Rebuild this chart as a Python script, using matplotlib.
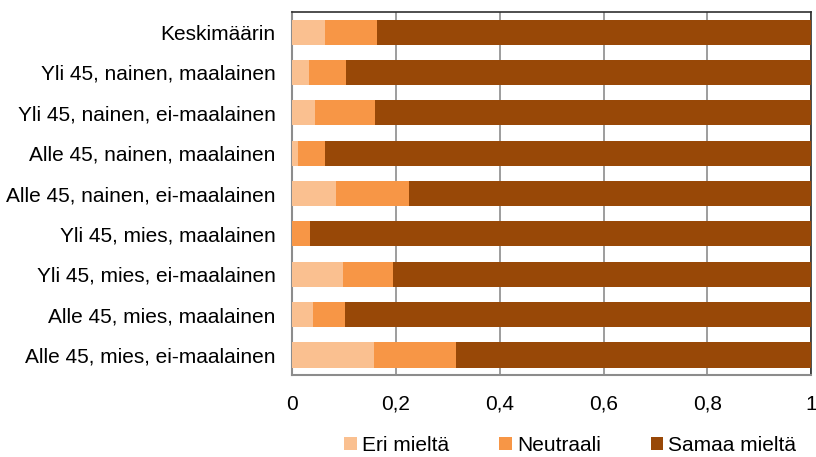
import matplotlib.pyplot as plt
import numpy as np

plt.rcParams['font.family'] = ['Liberation Sans', 'DejaVu Sans']

categories = [
    "Keskimäärin",
    "Yli 45, nainen, maalainen",
    "Yli 45, nainen, ei-maalainen",
    "Alle 45, nainen, maalainen",
    "Alle 45, nainen, ei-maalainen",
    "Yli 45, mies, maalainen",
    "Yli 45, mies, ei-maalainen",
    "Alle 45, mies, maalainen",
    "Alle 45, mies, ei-maalainen",
]
eri = [0.064, 0.033, 0.044, 0.012, 0.085, 0.0, 0.098, 0.040, 0.158]
neutraali = [0.099, 0.071, 0.116, 0.051, 0.141, 0.035, 0.096, 0.061, 0.157]
samaa = [1 - e - n for e, n in zip(eri, neutraali)]

series = ["Eri mieltä", "Neutraali", "Samaa mieltä"]
colors = ["#FAC090", "#F79646", "#984807"]

fig = plt.figure(figsize=(8.16, 4.57), dpi=100)
ax = fig.add_axes([0.358, 0.179, 0.636, 0.795])

y = np.arange(len(categories))
left = np.zeros(len(categories))
for vals, name, c in zip([eri, neutraali, samaa], series, colors):
    ax.barh(y, vals, left=left, height=0.62, color=c, label=name, zorder=3)
    left += np.array(vals)

ax.set_xlim(0, 1)
ax.set_ylim(len(categories) - 0.5, -0.5)
ax.set_yticks(y)
ax.set_yticklabels(categories, fontsize=15)
ax.set_xticks([0, 0.2, 0.4, 0.6, 0.8, 1])
ax.set_xticklabels(["0", "0,2", "0,4", "0,6", "0,8", "1"], fontsize=15)
ax.tick_params(axis="y", length=0, pad=12)
ax.tick_params(axis="x", length=0, pad=14)
ax.xaxis.grid(True, color="#8c8c8c", linewidth=1.2, zorder=0)
for s in ["left", "bottom"]:
    ax.spines[s].set_color("#8c8c8c")
    ax.spines[s].set_linewidth(1.5)
for s in ["top", "right"]:
    ax.spines[s].set_color("#303030")
    ax.spines[s].set_linewidth(1.2)

fig.legend(loc="lower center", bbox_to_anchor=(0.699, -0.036), ncol=3, frameon=False,
           fontsize=15, handlelength=0.6, handleheight=0.6, handletextpad=0.25,
           columnspacing=2.4)

fig.savefig("out.png", dpi=100)
